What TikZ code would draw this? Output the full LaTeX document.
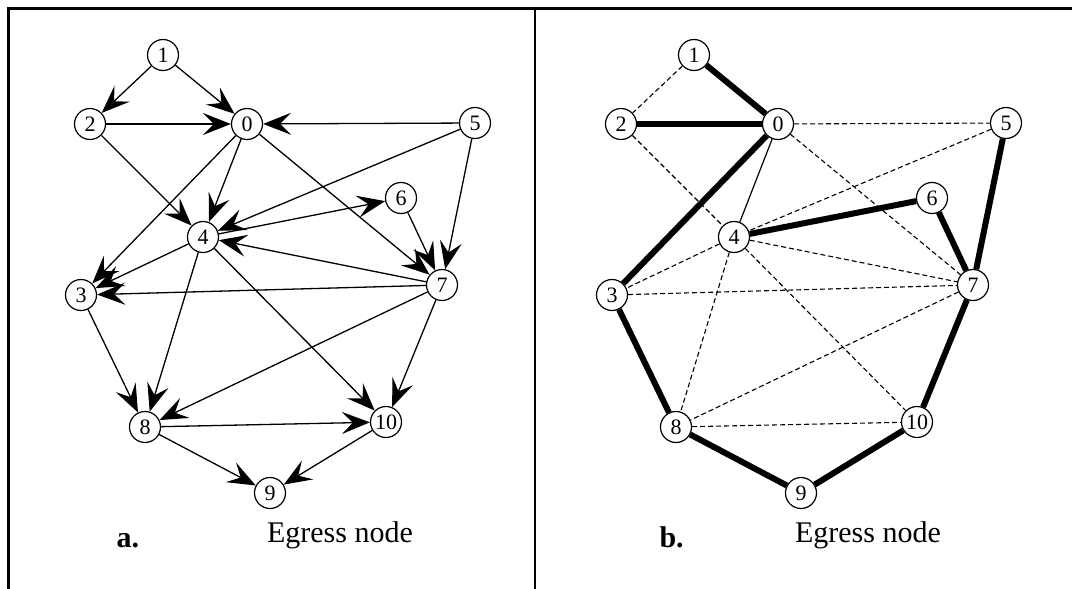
\documentclass[tikz,border=0pt]{standalone}
\usepackage{fontspec}
\setmainfont{Liberation Serif}
\usetikzlibrary{arrows.meta}

\tikzset{
  router/.style={circle, draw, fill=white, line width=1.2pt, minimum size=31pt, inner sep=0pt, font=\fontsize{22}{22}\selectfont},
  link/.style={line width=1.3pt, -{Stealth[length=28pt, width=22pt, inset=11pt]}},
  treelink/.style={line width=6pt},
  plainlink/.style={line width=1.2pt},
  sparelink/.style={line width=1.1pt, dash pattern=on 5pt off 3pt},
  caption/.style={anchor=base, font=\fontsize{30}{30}\selectfont}
}

\begin{document}
\begin{tikzpicture}[x=1pt, y=-1pt]
	% Fix the page size
	\useasboundingbox (0,0) rectangle (1072,589);
	
	% Draw the frame and the middle divider
	\draw[line width=2.2pt] (8.5,589) -- (8.5,8.5) -- (1072,8.5);
	\draw[line width=2pt] (535,8.5) -- (535,589);
	
	% Place the routers of both networks, right copy shifted by 531
	\foreach \n/\x/\y in {0/247/124, 1/163/55, 2/90/124, 3/81/295, 4/203/237, 5/475/123, 6/401/198, 7/442/285, 8/145/427, 9/270/493, 10/386/422}
	{
	\node[router] (a\n) at (\x,\y) {\n};
	\node[router] (b\n) at (\x+531,\y) {\n};
	}
	
	% Draw directed links of network a
	\foreach \s/\t in {1/2, 1/0, 2/0, 5/0, 2/4, 0/4, 0/3, 0/7, 5/4, 5/7, 4/6, 6/7, 7/4, 4/3, 7/3, 3/8, 4/8, 4/10, 7/8, 7/10, 8/10, 8/9, 10/9}
	\draw[link] (a\s) -- (a\t);
	
	% Draw spanning tree links of network b
	\foreach \s/\t in {1/0, 2/0, 0/3, 4/6, 6/7, 5/7, 3/8, 8/9, 9/10, 10/7}
	\draw[treelink] (b\s) -- (b\t);
	
	% Draw the remaining links of network b
	\draw[plainlink] (b0) -- (b4);
	\foreach \s/\t in {1/2, 0/5, 2/4, 0/7, 5/4, 4/3, 4/7, 3/7, 4/8, 4/10, 7/8, 8/10}
	\draw[sparelink] (b\s) -- (b\t);
	
	% Labels below each network
	\node[caption, anchor=base west] (labela) at (113,547) {\textbf{a.}};
	\node[caption] (egressa) at (340,542) {Egress node};
	\node[caption, anchor=base west] (labelb) at (656,547) {\textbf{b.}};
	\node[caption] (egressb) at (868,542) {Egress node};
\end{tikzpicture}
\end{document}
